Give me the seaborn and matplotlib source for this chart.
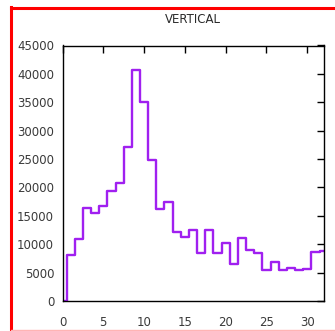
import numpy as np
import pandas as pd
import matplotlib
matplotlib.use("Agg")
import matplotlib.pyplot as plt
from matplotlib.lines import Line2D
import seaborn as sns

# Counts per vertical bin (bin centre -> count)
bin_centers = list(range(0, 33))
counts = [0, 8100, 11000, 16300, 15500, 16800, 19350, 20800, 27200, 40600,
          35000, 24800, 16200, 17350, 12200, 11200, 12500, 8400, 12500, 8400,
          10200, 6500, 11100, 9000, 8400, 5500, 6800, 5500, 5900, 5400,
          5600, 8600, 8800]
x_ticks = [0, 5, 10, 15, 20, 25, 30]
y_ticks = list(range(0, 45001, 5000))
title = "VERTICAL"

df = pd.DataFrame({"bin": bin_centers, "count": counts})

sns.set_style("white")
plt.rcParams["font.family"] = ["DejaVu Sans"]

W, H = 335, 331
fig = plt.figure(figsize=(W / 100, H / 100), dpi=100)
ax = fig.add_axes([62.5 / W, 1 - 301 / H, (323.6 - 62.5) / W, (301 - 45.5) / H])

sns.histplot(data=df, x="bin", weights="count", discrete=True,
             element="step", fill=False, color="#a020f0", linewidth=1.7, ax=ax)

ax.set_xlim(0, 32)
ax.set_ylim(0, 45000)
ax.set_xticks(x_ticks)
ax.set_yticks(y_ticks)
ax.set_xlabel("")
ax.set_ylabel("")
for s in ax.spines.values():
    s.set_visible(True)
    s.set_color("black")
    s.set_linewidth(1.0)
ax.tick_params(direction="in", length=5, width=1.0, colors="black",
               top=True, right=True, labelcolor="#3a3a3a", labelsize=8.5)
ax.tick_params(axis="y", pad=6)
ax.tick_params(axis="x", pad=10.5)
ax.set_title(title, fontsize=8.5, color="#2a2a2a", pad=16)

# frame around the panel
fig.add_artist(Line2D([10.5 / W, 10.5 / W], [0, 1 - 7 / H], transform=fig.transFigure,
                      color="#ff0000", linewidth=2.2, solid_capstyle="projecting"))
fig.add_artist(Line2D([10.5 / W, 1], [1 - 7.5 / H, 1 - 7.5 / H], transform=fig.transFigure,
                      color="#ff0000", linewidth=2.2, solid_capstyle="projecting"))
fig.add_artist(Line2D([10.5 / W, 1], [1 - 330.3 / H, 1 - 330.3 / H], transform=fig.transFigure,
                      color="#ffb4b4", linewidth=1.0))

fig.savefig("out.png", dpi=100)
